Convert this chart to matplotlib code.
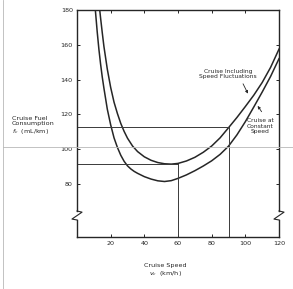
import numpy as np
import matplotlib.pyplot as plt
from matplotlib.lines import Line2D

# Cruise at constant speed
speed_const = [10.9, 12, 13, 14, 15, 16, 18, 20, 22, 24, 26, 28, 30, 32, 34, 36,
               40, 44, 48, 52, 56, 60, 65, 70, 75, 80, 85, 90, 95, 100, 105,
               110, 115, 120]
fuel_const = [180, 167.5, 157.5, 149, 141.5, 135, 123, 114, 106.5, 101, 96.5,
              93, 90.4, 88.6, 87.2, 86.1, 84.2, 82.8, 81.8, 81.4, 81.9, 83.2,
              85.2, 87.6, 90.3, 93.3, 97, 101.7, 108.2, 115.8, 124.2, 132.8,
              141.8, 152]

# Cruise including speed fluctuations
speed_fluct = [13.5, 14, 15, 16, 18, 20, 22, 24, 26, 28, 30, 33, 36, 40, 44, 48,
               52, 56, 60, 65, 70, 75, 80, 85, 90, 95, 100, 105, 110, 115, 120]
fuel_fluct = [180, 175.5, 167, 159, 146, 135.5, 127, 120.5, 114.8, 110.2, 106.3,
              101.8, 98.6, 95.6, 93.6, 92.3, 91.6, 91.4, 91.8, 93.2, 95.3, 98.2,
              101.8, 106.5, 112.3, 118.2, 124.5, 131, 138.3, 147, 157.5]

# Marked operating points (speed, consumption)
ref_speed = [60, 90]
ref_fuel = [91.5, 112.8]

x_ticks = [20, 40, 60, 80, 100, 120]
y_ticks = [80, 100, 120, 140, 160, 180]

ink = "#262626"
fs = 4.6

fig = plt.figure(figsize=(2.93, 2.89), dpi=100)
ax = fig.add_axes([77 / 293, 52 / 289, 202 / 293, 227 / 289])

# Curves
ax.plot(speed_const, fuel_const, color=ink, lw=1.1, solid_joinstyle="round")
ax.plot(speed_fluct, fuel_fluct, color=ink, lw=1.1, solid_joinstyle="round")

# Reference lines to the axes
for v, f in zip(ref_speed, ref_fuel):
    ax.plot([0, v], [f, f], color="#3a3a3a", lw=0.7)
    ax.plot([v, v], [49.5, f], color="#3a3a3a", lw=0.7)

ax.set_xlim(0, 120)
ax.set_ylim(49.5, 180)
ax.set_xticks(x_ticks)
ax.set_yticks(y_ticks)
ax.tick_params(direction="in", length=2.3, width=0.7, top=True, right=True,
               labelsize=fs, colors=ink, pad=3)

# Spines: left/right drawn by hand so they can carry the axis break
for s in ("left", "right"):
    ax.spines[s].set_visible(False)
for s in ("top", "bottom"):
    ax.spines[s].set_linewidth(1.0)
    ax.spines[s].set_color(ink)

brk_top, brk_bot = 0.1145, 0.075
for x0 in (0, 1):
    kw = dict(transform=ax.transAxes, color=ink, lw=1.0, clip_on=False)
    ax.plot([x0, x0], [1, brk_top], **kw)
    ax.plot([x0, x0], [brk_bot, 0], **kw)
    ax.plot([x0, x0 + 0.025, x0 - 0.025, x0],
            [brk_top, brk_top - 0.005, brk_bot + 0.004, brk_bot],
            transform=ax.transAxes, color=ink, lw=0.8, clip_on=False)

# Labels
fig.text(11.5 / 293, 1 - 126 / 289,
         "Cruise Fuel\nConsumption\n$f_c$  (mL/km)",
         ha="left", va="center", fontsize=fs, color=ink, linespacing=1.15)
fig.text(165 / 293, 1 - 270.5 / 289, "Cruise Speed\n$v_c$  (km/h)",
         ha="center", va="center", fontsize=fs, color=ink, linespacing=1.1)

# Curve annotations
ax.text(89.6, 143.2, "Cruise Including\nSpeed Fluctuations", ha="center",
        va="center", fontsize=fs - 0.3, color=ink, linespacing=1.15)
ax.annotate("", xy=(102.3, 130.5), xytext=(97.9, 139),
            arrowprops=dict(arrowstyle="-|>", color=ink, lw=0.6,
                            mutation_scale=4))
ax.text(108.8, 113.2, "Cruise at\nConstant\nSpeed", ha="center", va="center",
        fontsize=fs - 0.3, color=ink, linespacing=1.15)
ax.annotate("", xy=(106.4, 126.2), xytext=(110.6, 120.2),
            arrowprops=dict(arrowstyle="-|>", color=ink, lw=0.6,
                            mutation_scale=4))

# Faint fold marks of the scanned page
fig.add_artist(Line2D([3 / 293, 3 / 293], [0, 1], color="#b8b8b8", lw=0.6))
fig.add_artist(Line2D([3 / 293, 1], [1 - 147 / 289] * 2, color="#b8b8b8",
                      lw=0.6))

fig.savefig("out.png", dpi=100)
